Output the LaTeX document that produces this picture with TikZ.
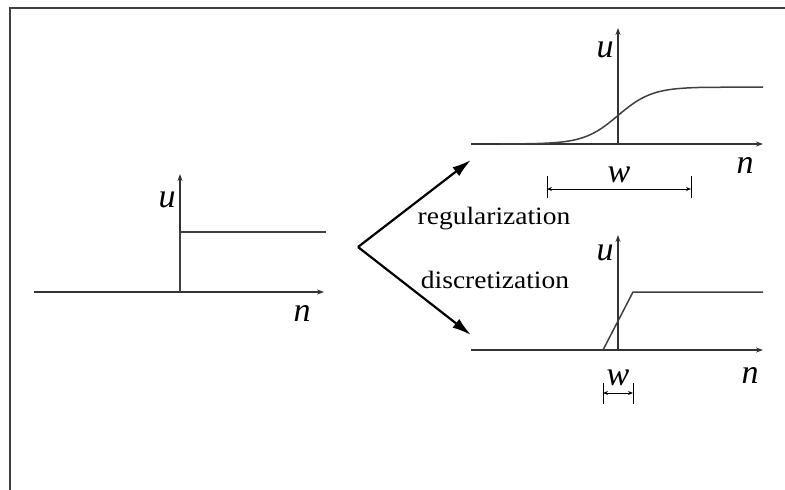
\documentclass[tikz,border=0pt]{standalone}
\usepackage{fontspec}
\setmainfont{Liberation Serif}
\usetikzlibrary{arrows.meta}

\begin{document}
\begin{tikzpicture}[x=1pt,y=-1pt,
  axis/.style={line width=1.5pt, draw=black!80, -{Stealth[length=7pt,width=5pt]}},
  curve/.style={line width=1.5pt, draw=black!75},
  bigarrow/.style={line width=2.2pt, -{Latex[length=19pt,width=11pt]}},
  var/.style={font=\fontsize{34}{36}\selectfont\itshape, inner sep=0pt},
  word/.style={font=\fontsize{25}{30}\selectfont, inner sep=0pt, xscale=1.1},
  dim/.style={line width=1pt, {Stealth[length=5pt,width=4pt]}-{Stealth[length=5pt,width=4pt]}}]
\useasboundingbox (0,0) rectangle (785,490);
\draw[line width=1.2pt, black!75] (10,490)--(10,8)--(785,8);

% step function
\coordinate (s0) at (180,292);
\draw[axis] (34,292)--(324,292);
\draw[axis] (s0)--(180,174);
\path (167,200) node[var] (su) {u};
\path (302,313) node[var] (sn) {n};
\draw[curve] (s0)--(180,232)--(326,232);

% the two ways
\coordinate (v) at (358,247);
\coordinate (vr) at (471,160);
\coordinate (vd) at (471,335);
\draw[bigarrow] (v)--(vr);
\draw[bigarrow] (v)--(vd);
\path (494,219) node[word] (reg) {regularization};
\path (495,280) node[word] (dis) {discretization};

% regularized
\coordinate (r0) at (618,144);
\draw[axis] (471,144)--(763,144);
\draw[axis] (r0)--(618,28);
\path (605,50) node[var] (ru) {u};
\path (745,165) node[var] (rn) {n};
\draw[curve, domain=500:705, samples=100, variable=\x] plot ({\x}, {144 - 57/(1+exp(-(\x-618)/17))}) -- (763,87);
\path (619,175) node[var] (rw) {w};
\draw[line width=1pt] (547,176)--(547,198) (691,176)--(691,198);
\draw[dim] (547,189)--(691,189);

% discretized
\coordinate (d0) at (618,350);
\draw[axis] (471,350)--(763,350);
\draw[axis] (d0)--(618,235);
\path (605,253) node[var] (du) {u};
\path (750,375) node[var] (dn) {n};
\draw[curve] (603,350)--(633,292)--(763,292);
\path (618,378) node[var] (dw) {w};
\draw[line width=1pt] (603,383)--(603,404) (633,383)--(633,404);
\draw[dim] (603,393)--(633,393);
\end{tikzpicture}
\end{document}
